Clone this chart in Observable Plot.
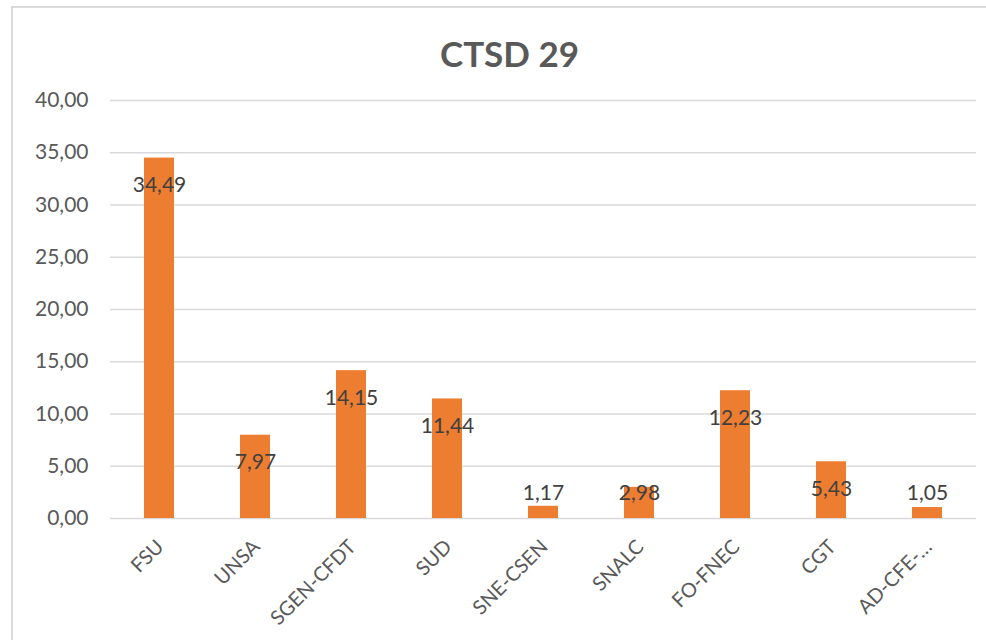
<!DOCTYPE html>
<html>
<head>
<meta charset="utf-8">
<script src="https://cdn.jsdelivr.net/npm/d3@7"></script>
<script src="https://cdn.jsdelivr.net/npm/@observablehq/plot@0.6"></script>
<style>
  html, body { margin: 0; padding: 0; background: #fff; overflow: hidden; }
  #wrap { position: relative; width: 986px; height: 640px; }
  #frame { position: absolute; left: 11px; top: 6px; width: 1000px; height: 700px;
           border: 2px solid #d9d9d9; box-sizing: border-box; pointer-events: none; }
  #chart { position: absolute; left: 0; top: 0; }
</style>
</head>
<body>
<div id="wrap"><div id="chart"></div><div id="frame"></div></div>
<script>
const categories = ["FSU", "UNSA", "SGEN-CFDT", "SUD", "SNE-CSEN", "SNALC", "FO-FNEC", "CGT", "AD-CFE-…"];
const values = [34.49, 7.97, 14.15, 11.44, 1.17, 2.98, 12.23, 5.43, 1.05];
const yTicks = [0, 5, 10, 15, 20, 25, 30, 35, 40];
const title = "CTSD 29";

const data = categories.map((c, i) => ({ cat: c, v: values[i] }));
const fmt = d => d.toFixed(2).replace(".", ",");
const font = "Lato, 'Open Sans', sans-serif";

const chart = Plot.plot({
  width: 986,
  height: 640,
  marginLeft: 110,
  marginRight: 10,
  marginTop: 100,
  marginBottom: 122,
  style: { fontFamily: font, background: "transparent" },
  x: { domain: categories, paddingInner: 0.69, paddingOuter: 0.345, label: null },
  y: { domain: [0, 40], ticks: yTicks, label: null },
  marks: [
    Plot.gridY(yTicks, { stroke: "#d9d9d9", strokeOpacity: 1, strokeWidth: 1.6 }),
    Plot.barY(data, { x: "cat", y: "v", fill: "#ED7D31" }),
    Plot.text(data, {
      x: "cat",
      y: d => Math.max(d.v - 2.63, 2.4),
      text: d => fmt(d.v),
      fill: "#404040",
      fontSize: 21,
      textAnchor: "middle",
      lineAnchor: "middle"
    }),
    Plot.axisY(yTicks, {
      tickSize: 0, tickPadding: 22, tickFormat: fmt,
      fontSize: 21, fill: "#595959", label: null
    }),
    Plot.axisX({
      tickSize: 0, tickRotate: -45, tickPadding: 25, dx: 1,
      fontSize: 20, fill: "#595959", label: null
    }),
    Plot.text([title], {
      frameAnchor: "top", dy: -45, dx: -34,
      fontSize: 35, fontWeight: "bold", fill: "#595959",
      lineAnchor: "middle", textAnchor: "middle"
    })
  ]
});
document.getElementById("chart").appendChild(chart);
</script>
</body>
</html>
